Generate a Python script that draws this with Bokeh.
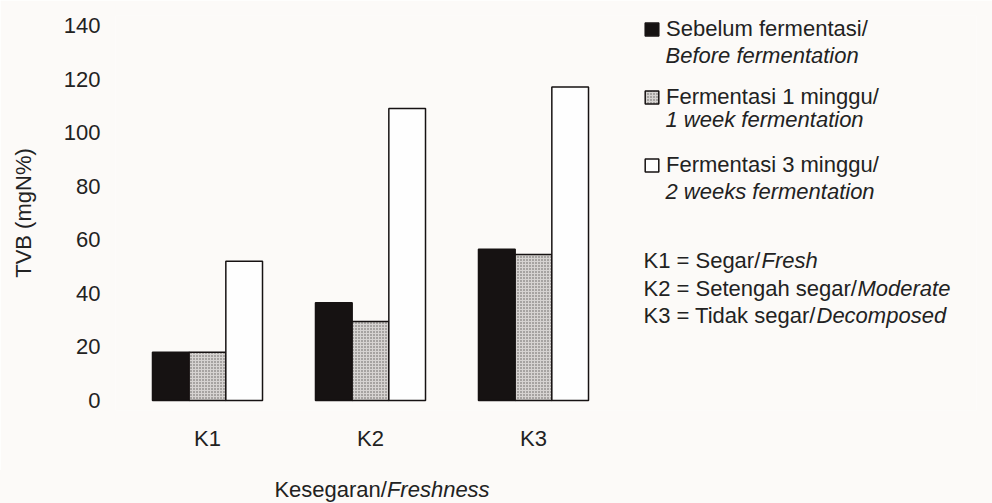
from bokeh.plotting import figure
from bokeh.models import ColumnDataSource, Range1d, FixedTicker, Label, Legend, LegendItem, Div
from bokeh.layouts import column
from bokeh.transform import dodge
from bokeh.embed import file_html
from bokeh.resources import INLINE

# ---- data ----
categories = ["K1", "K2", "K3"]
before = [18, 36.5, 56.5]      # Sebelum fermentasi / Before fermentation
week1 = [18, 29.5, 54.5]       # Fermentasi 1 minggu / 1 week fermentation
week3 = [52, 109, 117]         # Fermentasi 3 minggu / 2 weeks fermentation
y_ticks = [0, 20, 40, 60, 80, 100, 120, 140]
series_names = ["Sebelum fermentasi/", "Fermentasi 1 minggu/", "Fermentasi 3 minggu/"]
series_names_en = ["Before fermentation", "1 week fermentation", "2 weeks fermentation"]
key_main = ["K1 = Segar/", "K2 = Setengah segar/", "K3 = Tidak segar/"]
key_ital = ["Fresh", "Moderate", "Decomposed"]
x_title_main = "Kesegaran/"
x_title_ital = "Freshness"

FONT = "Liberation Sans"
BG = "#fcfaf8"
TXT = "#222222"

xs = [i + 1 for i in range(len(categories))]
src = ColumnDataSource(dict(x=xs, before=before, week1=week1, week3=week3))

p = figure(width=992, height=470, output_backend="svg", toolbar_location=None,
           x_range=Range1d(0.4356, 5.7178), y_range=Range1d(-3.74, 143.74),
           min_border_left=115, min_border_right=16, min_border_top=15,
           min_border_bottom=60, background_fill_color=BG, border_fill_color=BG)
p.outline_line_color = None
p.grid.visible = False

W = 0.225
r1 = p.vbar(x=dodge("x", -W), top="before", width=W, bottom=0, source=src,
            fill_color="#161212", line_color="#161212", line_width=1.5)
r2 = p.vbar(x=dodge("x", 0), top="week1", width=W, bottom=0, source=src,
            fill_color="#d6d3d1", hatch_pattern="dot", hatch_color="#5e5a5a",
            hatch_scale=3, hatch_weight=1, line_color="#161212", line_width=1.5)
r3 = p.vbar(x=dodge("x", W), top="week3", width=W, bottom=0, source=src,
            fill_color="#fefefe", line_color="#161212", line_width=1.5)

# axes
p.xaxis.ticker = FixedTicker(ticks=xs)
p.xaxis.major_label_overrides = {x: c for x, c in zip(xs, categories)}
p.yaxis.ticker = FixedTicker(ticks=y_ticks)
for ax in (p.xaxis[0], p.yaxis[0]):
    ax.axis_line_color = None
    ax.major_tick_line_color = None
    ax.minor_tick_line_color = None
    ax.major_tick_out = 0
    ax.major_tick_in = 0
    ax.major_label_text_font = FONT
    ax.major_label_text_font_size = "22px"
    ax.major_label_text_color = TXT
p.yaxis.major_label_standoff = 15
p.xaxis.major_label_standoff = 15
p.yaxis.axis_label = "TVB (mgN%)"
p.yaxis.axis_label_text_font = FONT
p.yaxis.axis_label_text_font_size = "22px"
p.yaxis.axis_label_text_font_style = "normal"
p.yaxis.axis_label_text_color = TXT
p.yaxis.axis_label_standoff = 25

# helpers: reference pixel -> data coordinates
def dx(rx):
    return 1 + (rx - 207) / 163.0

def dy(ry):
    return (400 - ry) / 2.677

# legend
legend = Legend(items=[LegendItem(label=n, renderers=[r]) for n, r in zip(series_names, [r1, r2, r3])],
                location=(528, 232), padding=0, margin=0, spacing=42,
                glyph_width=17, glyph_height=16, label_height=26, label_standoff=6,
                label_text_font=FONT, label_text_font_size="22px", label_text_color=TXT,
                border_line_color=None, background_fill_alpha=0)
p.add_layout(legend)

for t, ry in zip(series_names_en, [55, 119, 191]):
    p.add_layout(Label(x=dx(665), y=dy(ry), text=t, text_font=FONT, text_font_size="22px",
                       text_font_style="italic", text_color=TXT, text_baseline="middle"))

splits = [761, 857, 816]
for m, it, sx, ry in zip(key_main, key_ital, splits, [260, 288, 315]):
    p.add_layout(Label(x=dx(643), y=dy(ry), text=m, text_font=FONT, text_font_size="22px",
                       text_color=TXT, text_baseline="middle"))
    p.add_layout(Label(x=dx(sx), y=dy(ry), text=it, text_font=FONT, text_font_size="22px",
                       text_font_style="italic", text_color=TXT, text_baseline="middle"))

# x axis title (mixed upright / italic) as real HTML text below the plot
title_div = Div(
    text=(f'<div style="font-family:\'{FONT}\'; font-size:22px; color:{TXT}; width:764px; '
          f'text-align:center; line-height:26px; padding-top:7px;">'
          f'{x_title_main}<i>{x_title_ital}</i></div>'),
    width=992, height=33, styles={"background-color": BG, "margin": "0", "padding": "0"})

layout = column(p, title_div, spacing=0)
open("out.html", "w").write(file_html(layout, INLINE))
